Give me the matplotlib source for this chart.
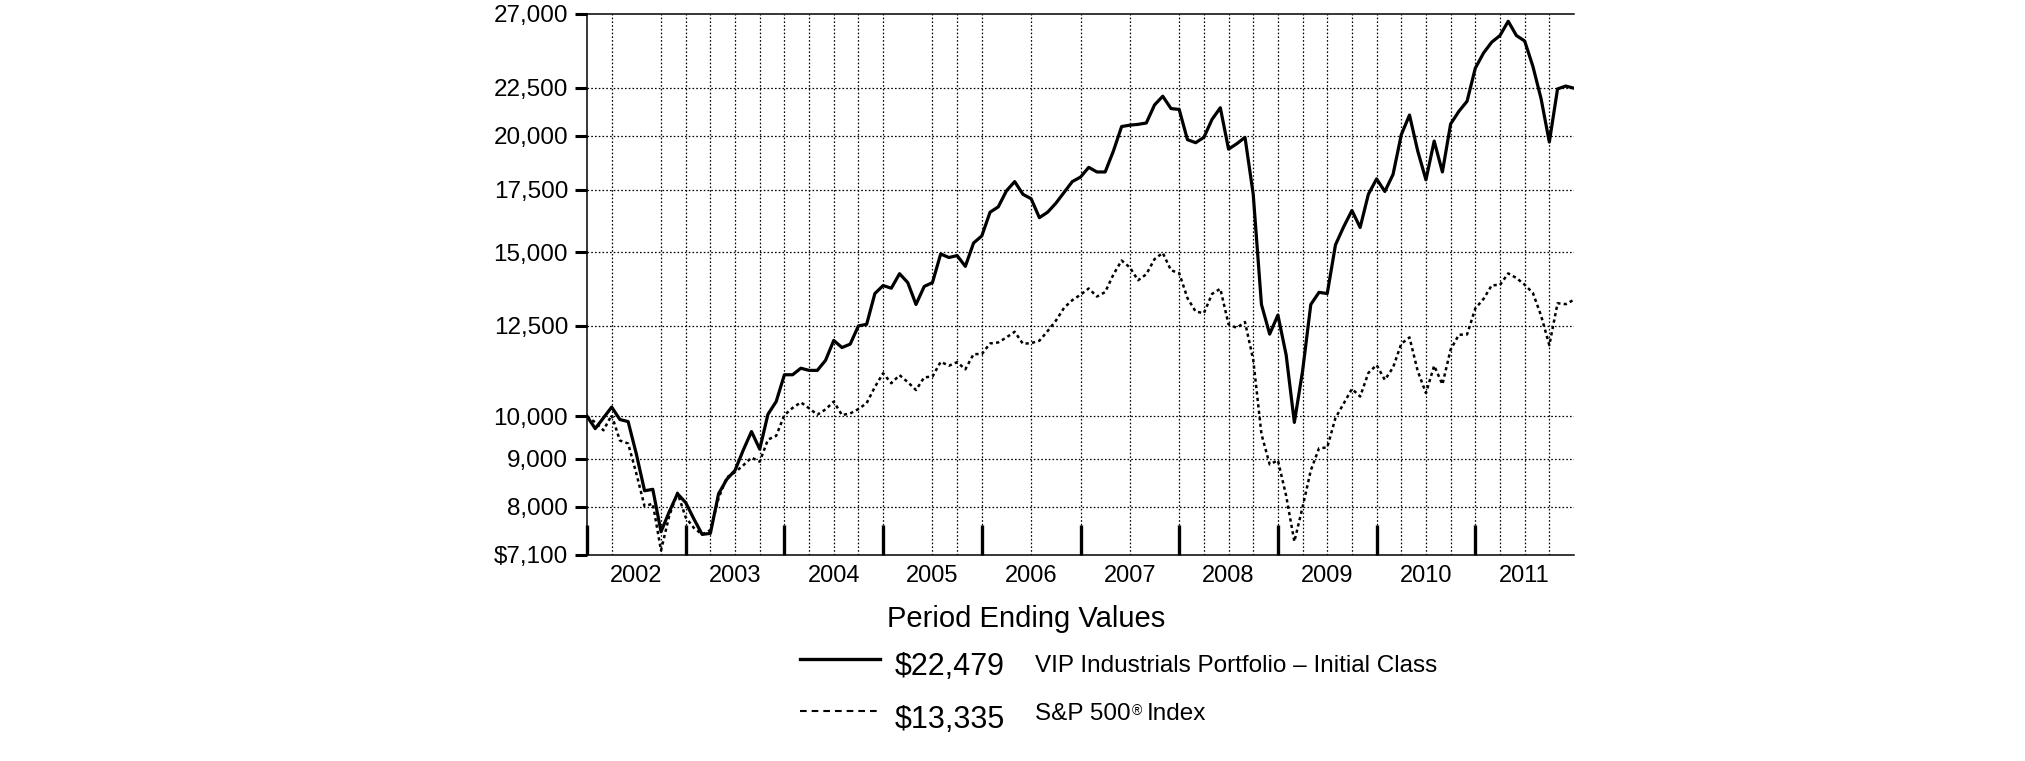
import matplotlib
matplotlib.use("Agg")
import matplotlib.pyplot as plt
from matplotlib import font_manager
from matplotlib.lines import Line2D
from matplotlib.ticker import FixedLocator, NullLocator

plt.rcParams["font.family"] = ["Liberation Sans", "DejaVu Sans"]

# month index 0 = Dec 2001 ... 120 = Dec 2011
years = [2002, 2003, 2004, 2005, 2006, 2007, 2008, 2009, 2010, 2011]
y_ticks = [7100, 8000, 9000, 10000, 12500, 15000, 17500, 20000, 22500, 27000]
y_tick_labels = [r"\$7,100", "8,000", "9,000", "10,000", "12,500", "15,000",
                 "17,500", "20,000", "22,500", "27,000"]

vip_values = [
    10000, 9700, 9960, 10230, 9920, 9870, 9110, 8320, 8350, 7520, 7900, 8260, 8080,
    7760, 7470, 7490, 8260, 8560, 8750, 9200, 9630, 9220, 10050, 10370, 11080,
    11080, 11260, 11200, 11200, 11480, 12060, 11850, 11950, 12500, 12550, 13540, 13810,
    13720, 14220, 13910, 13180, 13780, 13910, 14930, 14800, 14870, 14480, 15340, 15610,
    16550, 16770, 17450, 17850, 17300, 17110, 16330, 16550, 16920, 17380, 17850, 18050,
    18490, 18280, 18280, 19250, 20450, 20520, 20560, 20630, 21570, 22040, 21380, 21330,
    19800, 19650, 19910, 20820, 21420, 19340, 19600, 19910, 17300, 13180, 12250, 12840,
    11640, 9850, 11180, 13180, 13580, 13540, 15270, 15970, 16620, 15940, 17300, 17970,
    17420, 18170, 20040, 21040, 19250, 17930, 19730, 18280, 20580, 21230, 21770, 23620,
    24520, 25190, 25600, 26520, 25600, 25260, 23730, 21900, 19680, 22440, 22600, 22479,
]

sp500_values = [
    10000, 9850, 9660, 10030, 9420, 9350, 8680, 8010, 8060, 7180, 7820, 8280, 7790,
    7590, 7470, 7550, 8170, 8600, 8710, 8860, 9030, 8940, 9440, 9530, 10030,
    10210, 10350, 10200, 10040, 10170, 10370, 10030, 10070, 10180, 10330, 10750, 11120,
    10850, 11070, 10880, 10670, 11010, 11030, 11440, 11330, 11430, 11230, 11660, 11660,
    11970, 12000, 12150, 12320, 11960, 11980, 12050, 12340, 12660, 13070, 13320, 13500,
    13710, 13440, 13590, 14190, 14690, 14440, 13990, 14200, 14740, 14970, 14340, 14240,
    13390, 12950, 12900, 13530, 13700, 12550, 12440, 12620, 11500, 9570, 8880, 8970,
    8220, 7340, 7990, 8750, 9240, 9260, 9960, 10320, 10700, 10500, 11130, 11350,
    10940, 11280, 11960, 12150, 11180, 10590, 11330, 10820, 11790, 12230, 12240, 13050,
    13360, 13820, 13830, 14230, 14070, 13840, 13560, 12820, 11920, 13220, 13190, 13335,
]

# quarter-end gridlines that show in the original
grid_months = [3, 9, 12, 15, 18, 21, 24, 27, 30, 33, 36, 42, 45, 48, 54, 60, 66,
               72, 75, 78, 81, 84, 87, 90, 93, 96, 99, 102, 105, 108, 111, 114, 117]

legend_amounts = [r"\$22,479", r"\$13,335"]
legend_names = ["VIP Industrials Portfolio \u2013 Initial Class", "S&P 500"]

W, H = 2025, 761


def fx(px):
    return px / W


def fy(py):
    return 1 - py / H


fig = plt.figure(figsize=(W / 100, H / 100), dpi=100)
ax = fig.add_axes([fx(587), fy(555), fx(1574 - 587), (555 - 14) / H])

months = list(range(len(vip_values)))
grid_ls = (0, (1.3, 1.7))
for v in y_ticks[1:-1]:
    ax.axhline(v, color="black", lw=0.9, ls=grid_ls, zorder=1)
for m in grid_months:
    ax.axvline(m, color="black", lw=0.9, ls=grid_ls, zorder=1)

ax.plot(months, sp500_values, color="black", lw=1.8, ls=(0, (1.3, 1.3)), zorder=3)
ax.plot(months, vip_values, color="black", lw=2.3, zorder=4)

ax.set_yscale("log")
ax.set_xlim(0, 120)
ax.set_ylim(7100, 27000)

ax.yaxis.set_major_locator(FixedLocator(y_ticks))
ax.yaxis.set_minor_locator(NullLocator())
ax.set_yticklabels(y_tick_labels)
ax.tick_params(axis="y", which="major", direction="out", length=8.6, width=2.2,
               pad=5, labelsize=17.5)

ax.set_xticks([12 * k for k in range(len(years))])
ax.set_xticklabels([])
ax.set_xticks([12 * k + 6 for k in range(len(years))], labels=[str(y) for y in years], minor=True)
ax.tick_params(axis="x", which="major", direction="in", length=21.6, width=2.4)
ax.tick_params(axis="x", which="minor", length=0, pad=7, labelsize=17)

ax.spines["right"].set_visible(False)
for s in ("left", "bottom", "top"):
    ax.spines[s].set_linewidth(1.1)

# legend block below the plot
fig.text(fx(887), fy(627), "Period Ending Values", fontsize=21, va="baseline")

names = {f.name for f in font_manager.fontManager.ttflist}
if "Liberation Sans Narrow" in names:
    amount_font, amount_size = "Liberation Sans Narrow", 26
else:
    amount_font, amount_size = "Liberation Sans", 22

amount_base = [675, 728]
name_base = [672, 720]
fig.add_artist(Line2D([fx(800), fx(880)], [fy(659), fy(659)], transform=fig.transFigure,
                      color="black", lw=2.4))
fig.add_artist(Line2D([fx(800), fx(880)], [fy(711), fy(711)], transform=fig.transFigure,
                      color="black", lw=1.5, ls=(0, (3.2, 2.4))))

for amount, y in zip(legend_amounts, amount_base):
    fig.text(fx(895), fy(y), amount, fontsize=amount_size, family=amount_font, va="baseline")

fig.text(fx(1035), fy(name_base[0]), legend_names[0], fontsize=17.5, va="baseline")

renderer = fig.canvas.get_renderer()
sp = fig.text(fx(1035), fy(name_base[1]), legend_names[1], fontsize=17.5, va="baseline")
bb = sp.get_window_extent(renderer)
reg = fig.text((bb.x1 + 1) / W, (bb.y1 - 1) / H, "\u00ae", fontsize=10, va="top")
bb2 = reg.get_window_extent(renderer)
fig.text((bb2.x1 + 5) / W, fy(name_base[1]), "Index", fontsize=17.5, va="baseline")

fig.savefig("out.png", dpi=100)
